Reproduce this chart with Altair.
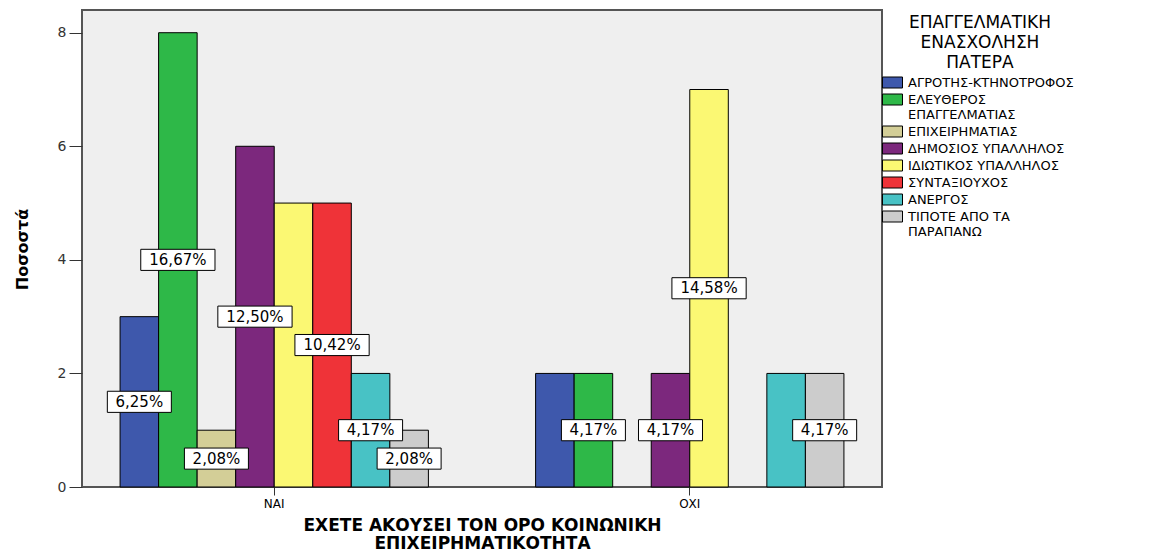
import altair as alt
import pandas as pd

groups = ["ΝΑΙ", "ΟΧΙ"]
categories = [
    "ΑΓΡΟΤΗΣ-ΚΤΗΝΟΤΡΟΦΟΣ",
    "ΕΛΕΥΘΕΡΟΣ|ΕΠΑΓΓΕΛΜΑΤΙΑΣ",
    "ΕΠΙΧΕΙΡΗΜΑΤΙΑΣ",
    "ΔΗΜΟΣΙΟΣ ΥΠΑΛΛΗΛΟΣ",
    "ΙΔΙΩΤΙΚΟΣ ΥΠΑΛΛΗΛΟΣ",
    "ΣΥΝΤΑΞΙΟΥΧΟΣ",
    "ΑΝΕΡΓΟΣ",
    "ΤΙΠΟΤΕ ΑΠΟ ΤΑ|ΠΑΡΑΠΑΝΩ",
]
colors = ["#3E58AC", "#2EB848", "#D3CE97", "#7C287D", "#FBF873", "#EF3338", "#48C2C5", "#CCCCCC"]

nai_values = [3, 8, 1, 6, 5, 5, 2, 1]
oxi_values = [2, 2, None, 2, 7, None, 2, 2]
nai_labels = ["6,25%", "16,67%", "2,08%", "12,50%", "", "10,42%", "4,17%", "2,08%"]
oxi_labels = ["", "4,17%", "", "4,17%", "14,58%", "", "", "4,17%"]

rows = []
for g, vals, labs in [(groups[0], nai_values, nai_labels), (groups[1], oxi_values, oxi_labels)]:
    for c, v, l in zip(categories, vals, labs):
        if v is None:
            continue
        rows.append({"group": g, "category": c, "value": v, "label": l})
df = pd.DataFrame(rows)

FONT = "DejaVu Sans"

box5 = "M-1,-0.33L1,-0.33L1,0.33L-1,0.33Z"
box6 = "M-1.16,-0.33L1.16,-0.33L1.16,0.33L-1.16,0.33Z"

x_enc = alt.X(
    "group:N",
    scale=alt.Scale(domain=groups, paddingInner=0.258, paddingOuter=0.0916),
    axis=alt.Axis(
        title=["ΕΧΕΤΕ ΑΚΟΥΣΕΙ ΤΟΝ ΟΡΟ ΚΟΙΝΩΝΙΚΗ", "ΕΠΙΧΕΙΡΗΜΑΤΙΚΟΤΗΤΑ"],
        titleFont=FONT, titleFontSize=17, titleFontWeight="bold", titleColor="black",
        titleLineHeight=18, titlePadding=8,
        labelFont=FONT, labelFontSize=12, labelColor="black", labelAngle=0, labelPadding=3,
        tickSize=8, tickColor="#333333", domain=False,
    ),
)
xoff = alt.XOffset("category:N", scale=alt.Scale(domain=categories, paddingInner=0, paddingOuter=0))

y_scale = alt.Scale(domain=[0, 8.4], nice=False)

bars = alt.Chart(df).mark_bar(stroke="black", strokeWidth=1).encode(
    x=x_enc,
    xOffset=xoff,
    y=alt.Y(
        "value:Q",
        scale=y_scale,
        axis=alt.Axis(
            title="Ποσοστά", titleFont=FONT, titleFontSize=16, titleFontWeight="bold",
            titleColor="black", titleAngle=-90, titleX=-60, titleY=239,
            titleAlign="center", titleBaseline="middle",
            values=[0, 2, 4, 6, 8], format="d", labelFont=FONT, labelFontSize=14, labelColor="#333333",
            labelPadding=3, tickSize=13, tickColor="#333333", grid=False, domain=False,
        ),
    ),
    color=alt.Color(
        "category:N",
        scale=alt.Scale(domain=categories, range=colors),
        legend=alt.Legend(
            title=["ΕΠΑΓΓΕΛΜΑΤΙΚΗ", "ΕΝΑΣΧΟΛΗΣΗ", "ΠΑΤΕΡΑ"],
            titleFont=FONT, titleFontSize=17, titleFontWeight="normal", titleColor="black",
            titleLineHeight=20, titleAnchor="middle", titleAlign="center", titlePadding=4,
            labelFont=FONT, labelFontSize=13, labelColor="black", labelLimit=260,
            labelExpr="split(datum.label, '|')", labelOffset=9,
            symbolType="M-2,-1.1L2,-1.1L2,1.1L-2,1.1Z", symbolSize=100,
            symbolStrokeColor="black", symbolStrokeWidth=1, symbolOpacity=1,
            rowPadding=2, orient="none", legendX=804, legendY=5,
        ),
    ),
)

lab = alt.Chart(df).transform_filter("datum.label != ''").transform_calculate(
    mid="datum.value / 2", lablen="length(datum.label)"
)

boxes = lab.mark_point(filled=True, color="white", stroke="black", strokeWidth=1, size=4096, opacity=1).encode(
    x=alt.X("group:N"),
    xOffset=alt.XOffset("category:N"),
    y=alt.Y("mid:Q"),
    shape=alt.Shape("lablen:N", scale=alt.Scale(domain=[5, 6], range=[box5, box6]), legend=None),
)

texts = lab.mark_text(font=FONT, fontSize=15, color="black", baseline="middle", align="center").encode(
    x=alt.X("group:N"),
    xOffset=alt.XOffset("category:N"),
    y=alt.Y("mid:Q"),
    text="label:N",
)

chart = alt.layer(bars, boxes, texts).properties(
    width=800, height=477,
    autosize=alt.AutoSizeParams(type="none"),
    padding={"left": 74, "top": 2, "right": 260, "bottom": 64},
    background="white",
).configure_view(
    fill="#EFEFEF", stroke="#555555", strokeWidth=2
)

chart.save("out.html", embed_options={"renderer": "svg", "actions": False})
